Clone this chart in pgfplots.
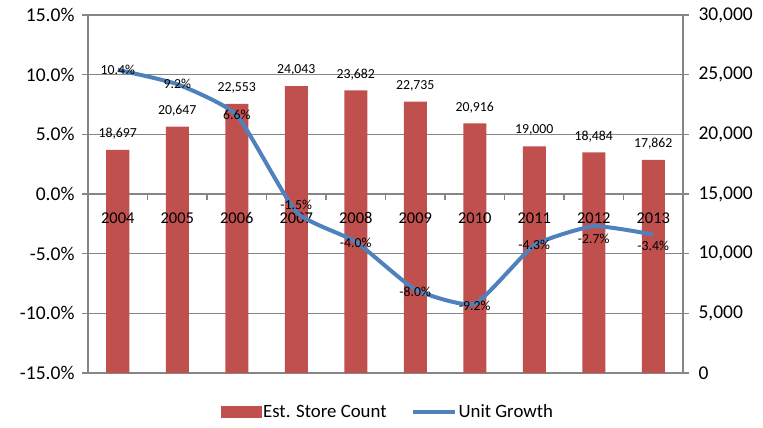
\documentclass[border=0pt]{standalone}
\usepackage{fontspec}
\setmainfont{Carlito}
\usepackage{pgfplots}
\usepackage{pgfplotstable}
\pgfplotsset{compat=1.18}
\definecolor{barred}{RGB}{192,80,77}
\definecolor{lineblue}{RGB}{79,129,189}
\definecolor{gridgray}{RGB}{134,134,134}
\pgfplotstableread{
x count
0 18697
1 20647
2 22553
3 24043
4 23682
5 22735
6 20916
7 19000
8 18484
9 17862
}\storetable
\pgfplotstableread{
x growth dy
0 10.4 0
1 9.2 0
2 6.6 0
3 -1.5 7
4 -4.0 -1
5 -8.0 -2
6 -9.2 -2
7 -4.3 0
8 -2.7 -13
9 -3.4 -11
}\growthtable
\begin{document}
\begin{tikzpicture}
\useasboundingbox (-88pt,-55pt) rectangle (675pt,373pt);
\begin{axis}[
  at={(0pt,0pt)}, anchor=south west,
  scale only axis, width=595pt, height=358pt,
  xmin=-0.5, xmax=9.5, ymin=0, ymax=30000,
  axis x line=none,
  axis y line*=right,
  xtick=\empty,
  y axis line style={gridgray, line width=1.2pt},
  ytick={0,5000,...,30000},
  ymajorgrids, grid style={gridgray, line width=1.2pt},
  ytick align=outside, major tick length=6pt,
  ytick style={gridgray, line width=1.2pt},
  scaled y ticks=false,
  /pgf/number format/assume math mode=true,
  yticklabel style={font=\fontsize{19.5}{24}\selectfont, /pgf/number format/1000 sep={,}, xshift=6pt},
  ybar, bar width=23pt,
  nodes near coords,
  nodes near coords style={font=\fontsize{13.8}{16}\selectfont, black, /pgf/number format/1000 sep={,}, yshift=7pt},
]
\addplot[fill=barred, draw=none] table[x=x, y=count] {\storetable};
\end{axis}
\begin{axis}[
  at={(0pt,0pt)}, anchor=south west,
  scale only axis, width=595pt, height=358pt,
  xmin=-0.5, xmax=9.5, ymin=-15, ymax=15,
  axis y line*=left,
  axis x line*=middle,
  x axis line style={draw=none},
  y axis line style={gridgray, line width=1.2pt},
  xtick={0,...,9},
  xticklabels={2004,2005,2006,2007,2008,2009,2010,2011,2012,2013},
  major x tick style={draw=none},
  minor xtick={-0.5,0.5,...,9.5},
  minor x tick style={gridgray, line width=1.2pt},
  minor tick length=6pt,
  xtick align=outside,
  ytick={-15,-10,...,15},
  ytick align=outside, major tick length=6pt,
  ytick style={gridgray, line width=1.2pt},
  /pgf/number format/assume math mode=true,
  yticklabel={\pgfmathprintnumber[fixed,fixed zerofill,precision=1]{\tick}\%},
  yticklabel style={font=\fontsize{19.5}{24}\selectfont, xshift=-4pt},
  xticklabel style={font=\fontsize{16.5}{19}\selectfont, anchor=base, yshift=-24pt},
  legend style={at={(0.504,-0.109)}, anchor=center, draw=none, fill=none,
    legend columns=2, font=\fontsize{18.8}{22}\selectfont, cells={anchor=west}},
]
\addlegendimage{legend image code/.code={\fill[barred] (0pt,-5.5pt) rectangle (40pt,5.5pt);}}
\addlegendentry{Est. Store Count}
\addplot[lineblue, line width=4pt, smooth, tension=0.3,
  legend image code/.code={\path (-22pt,0pt); \draw[lineblue,line width=4pt] (0pt,0pt) -- (42pt,0pt);},
  visualization depends on={\thisrow{dy}\as\labdy},
  nodes near coords={\pgfmathprintnumber[fixed,fixed zerofill,precision=1]{\pgfplotspointmeta}\%},
  nodes near coords style={font=\fontsize{13.8}{16}\selectfont, black, anchor=center, yshift=\labdy pt},
] table[x=x, y=growth] {\growthtable};
\addlegendentry{Unit Growth}
\end{axis}
\end{tikzpicture}
\end{document}
